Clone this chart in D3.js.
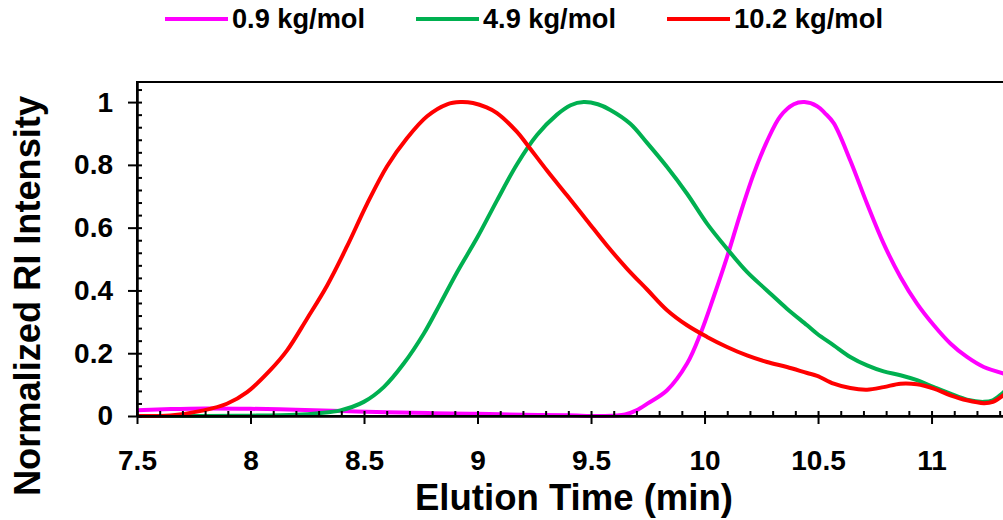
<!DOCTYPE html>
<html>
<head>
<meta charset="utf-8">
<script src="https://cdn.jsdelivr.net/npm/d3@7"></script>
<style>
  body { margin: 0; background: #fff; }
  text { font-family: Arial, "Liberation Sans", sans-serif; font-weight: bold; fill: #000; }
</style>
</head>
<body>
<div id="chart"></div>
<script>
// series labels and colours
const seriesNames = ["0.9 kg/mol", "4.9 kg/mol", "10.2 kg/mol"];
const seriesColors = ["#ff00ff", "#00b050", "#ff0000"];

// 0.9 kg/mol trace (elution time, normalized intensity)
const time09 = [7.5, 7.65, 7.8, 8.0, 8.2, 8.4, 8.6, 8.8, 9.0, 9.2, 9.4, 9.55, 9.65, 9.7, 9.75, 9.835, 9.923, 9.982,
  10.04, 10.099, 10.158, 10.217, 10.275, 10.334, 10.393, 10.44, 10.496, 10.53, 10.569, 10.642, 10.716, 10.789, 10.863,
  10.936, 11.01, 11.083, 11.156, 11.23, 11.32];
const int09 = [0.018, 0.022, 0.024, 0.023, 0.02, 0.016, 0.012, 0.009, 0.007, 0.004, 0.002, 0.0, 0.005, 0.018, 0.04,
  0.082, 0.167, 0.262, 0.379, 0.506, 0.645, 0.772, 0.875, 0.955, 0.993, 1.0, 0.987, 0.965, 0.933, 0.814, 0.676, 0.549,
  0.443, 0.358, 0.289, 0.231, 0.188, 0.156, 0.135];

// 4.9 kg/mol trace
const time49 = [7.5, 7.8, 8.0, 8.2, 8.3, 8.396, 8.499, 8.587, 8.675, 8.763, 8.836, 8.91, 9.0, 9.086, 9.174, 9.262,
  9.35, 9.41, 9.468, 9.53, 9.585, 9.673, 9.747, 9.835, 9.923, 10.011, 10.099, 10.187, 10.275, 10.363, 10.452, 10.496,
  10.569, 10.642, 10.716, 10.789, 10.863, 10.936, 11.01, 11.083, 11.156, 11.23, 11.27, 11.32];
const int49 = [0.0, 0.0, 0.001, 0.004, 0.009, 0.018, 0.045, 0.092, 0.167, 0.262, 0.358, 0.458, 0.57, 0.687, 0.802,
  0.895, 0.96, 0.99, 1.0, 0.993, 0.975, 0.931, 0.87, 0.793, 0.708, 0.613, 0.533, 0.459, 0.4, 0.342, 0.289, 0.262,
  0.225, 0.188, 0.161, 0.142, 0.13, 0.114, 0.092, 0.071, 0.052, 0.045, 0.05, 0.078];

// 10.2 kg/mol trace
const time102 = [7.5, 7.647, 7.794, 7.896, 7.985, 8.087, 8.161, 8.249, 8.337, 8.425, 8.513, 8.601, 8.689, 8.778,
  8.866, 8.924, 8.98, 9.04, 9.086, 9.174, 9.218, 9.306, 9.394, 9.482, 9.57, 9.659, 9.747, 9.835, 9.923, 10.011,
  10.099, 10.187, 10.275, 10.363, 10.452, 10.496, 10.569, 10.642, 10.716, 10.789, 10.863, 10.936, 11.01, 11.083,
  11.156, 11.23, 11.27, 11.32];
const int102 = [0.0, 0.002, 0.018, 0.039, 0.076, 0.146, 0.209, 0.31, 0.415, 0.54, 0.675, 0.795, 0.885, 0.955, 0.993,
  1.0, 0.997, 0.983, 0.965, 0.905, 0.865, 0.782, 0.703, 0.623, 0.543, 0.469, 0.403, 0.337, 0.289, 0.252, 0.22, 0.193,
  0.172, 0.156, 0.137, 0.128, 0.103, 0.089, 0.084, 0.092, 0.103, 0.101, 0.087, 0.066, 0.05, 0.041, 0.045, 0.068];

// axis ticks
const xMajor = [7.5, 8, 8.5, 9, 9.5, 10, 10.5, 11];
const xMinor = d3.range(75, 114).map(i => i / 10);
const yMajor = [0, 0.2, 0.4, 0.6, 0.8, 1];
const yMinor = d3.range(0, 27).map(i => +(i * 0.04).toFixed(2));

const W = 1003, H = 520;
const plot = { left: 137, top: 82, width: 874, height: 334 };

const svg = d3.select("#chart").append("svg")
  .attr("width", W)
  .attr("height", H);

const x = d3.scaleLinear().domain([7.5, 11.35]).range([0, plot.width]);
const y = d3.scaleLinear().domain([0, 1.064]).range([plot.height, 0]);

const g = svg.append("g").attr("transform", `translate(${plot.left},${plot.top})`);

g.append("clipPath").attr("id", "clip")
  .append("rect").attr("width", plot.width).attr("height", plot.height + 4).attr("y", -2);

// traces
const series = [
  time09.map((t, i) => ({ t, v: int09[i] })),
  time49.map((t, i) => ({ t, v: int49[i] })),
  time102.map((t, i) => ({ t, v: int102[i] }))
];

const line = d3.line()
  .x(d => x(d.t))
  .y(d => y(d.v))
  .curve(d3.curveCatmullRom.alpha(0.5));

g.append("g").attr("clip-path", "url(#clip)")
  .selectAll("path")
  .data(series)
  .enter()
  .append("path")
  .attr("d", line)
  .attr("fill", "none")
  .attr("stroke", (d, i) => seriesColors[i])
  .attr("stroke-width", 4)
  .attr("stroke-linejoin", "round");

// plot border
g.append("rect")
  .attr("width", plot.width)
  .attr("height", plot.height)
  .attr("fill", "none")
  .attr("stroke", "#000")
  .attr("stroke-width", 2);

// x axis: major ticks below with labels, all ticks inside
const xAxis = g.append("g")
  .attr("transform", `translate(0,${plot.height})`)
  .call(d3.axisBottom(x).tickValues(xMajor).tickSize(8).tickSizeOuter(0).tickPadding(26)
    .tickFormat(d3.format("")));
xAxis.selectAll("text").attr("font-size", 28).attr("font-family", null);

g.append("g")
  .attr("transform", `translate(0,${plot.height})`)
  .call(d3.axisTop(x).tickValues(xMinor).tickSize(5).tickSizeOuter(0).tickFormat(""));

// y axis
const yAxis = g.append("g")
  .call(d3.axisLeft(y).tickValues(yMajor).tickSize(9).tickSizeOuter(0).tickPadding(15)
    .tickFormat(d3.format("")));
yAxis.selectAll("text").attr("font-size", 28).attr("font-family", null);

g.append("g")
  .call(d3.axisRight(y).tickValues(yMinor).tickSize(5).tickSizeOuter(0).tickFormat(""));

g.selectAll(".domain").attr("stroke", "#000").attr("stroke-width", 2);
g.selectAll(".tick line").attr("stroke", "#000").attr("stroke-width", 2);

// axis titles
svg.append("text")
  .attr("x", 574)
  .attr("y", 510)
  .attr("text-anchor", "middle")
  .attr("font-size", 36)
  .attr("textLength", 318)
  .attr("lengthAdjust", "spacingAndGlyphs")
  .text("Elution Time (min)");

svg.append("text")
  .attr("transform", "translate(40,296) rotate(-90)")
  .attr("text-anchor", "middle")
  .attr("font-size", 36)
  .attr("textLength", 400)
  .attr("lengthAdjust", "spacingAndGlyphs")
  .text("Normalized RI Intensity");

// legend
const legendX = [165, 416, 667];
const legendW = [133, 133, 149];
const legend = svg.append("g")
  .selectAll("g")
  .data(seriesNames)
  .enter()
  .append("g")
  .attr("transform", (d, i) => `translate(${legendX[i]},19)`);

legend.append("line")
  .attr("x1", 0).attr("x2", 63)
  .attr("stroke", (d, i) => seriesColors[i])
  .attr("stroke-width", 4);

legend.append("text")
  .attr("x", 67)
  .attr("y", 9)
  .attr("font-size", 27)
  .attr("textLength", (d, i) => legendW[i])
  .attr("lengthAdjust", "spacingAndGlyphs")
  .text(d => d);
</script>
</body>
</html>
